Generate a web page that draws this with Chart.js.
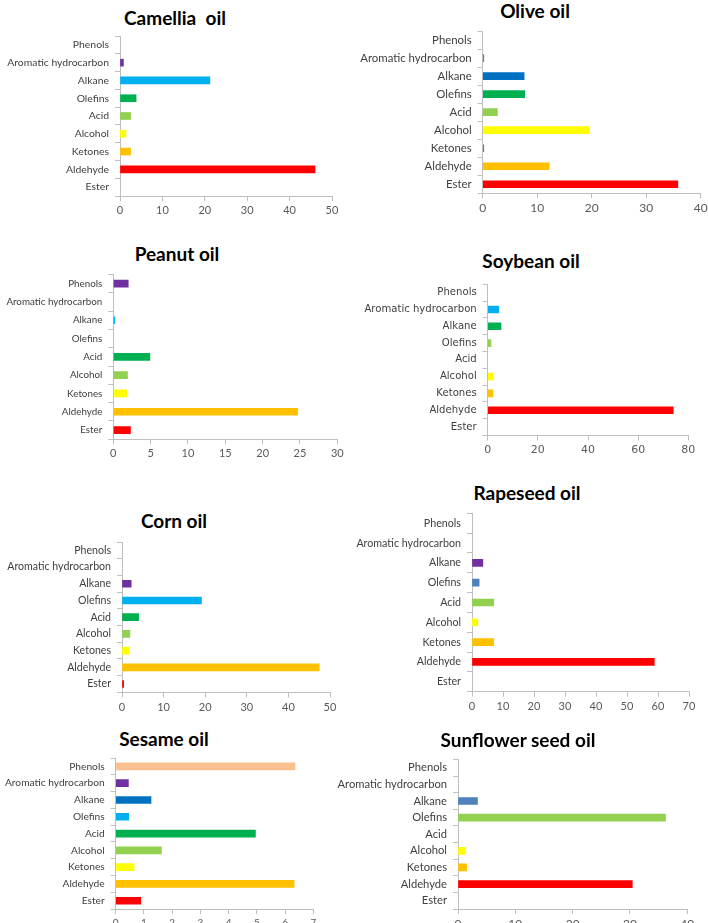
<!DOCTYPE html>
<html>
<head>
<meta charset="utf-8">
<script src="https://cdn.jsdelivr.net/npm/chart.js@4"></script>
<style>
  html, body { margin: 0; padding: 0; background: #fff; overflow: hidden; }
  body { position: relative; width: 708px; height: 923px; }
  canvas { position: absolute; }
  .ttl { position: absolute; transform: translate(-50%, -50%); white-space: pre;
         font-family: Lato, sans-serif; font-weight: bold; font-size: 19px; color: #000; }
</style>
</head>
<body>
<script>
// DATA
const categories = ['Phenols', 'Aromatic hydrocarbon', 'Alkane', 'Olefins', 'Acid', 'Alcohol', 'Ketones', 'Aldehyde', 'Ester'];

const camelliaValues  = [0, 0.8, 21.2, 3.8, 2.5, 1.4, 2.5, 46.0, 0];
const oliveValues     = [0, 0.2, 7.6, 7.7, 2.7, 19.5, 0.2, 12.2, 35.8];
const peanutValues    = [2.0, 0, 0.2, 0, 4.9, 1.9, 1.8, 24.7, 2.3];
const soybeanValues   = [0, 4.4, 5.3, 1.3, 0, 2.1, 2.1, 74.0, 0];
const cornValues      = [0, 0, 2.2, 19.1, 4.0, 1.9, 1.7, 47.4, 0.4];
const rapeseedValues  = [0, 0, 3.5, 2.3, 7.0, 1.9, 7.0, 58.8, 0];
const sesameValues    = [6.35, 0.45, 1.25, 0.46, 4.95, 1.62, 0.65, 6.32, 0.89];
const sunflowerValues = [0, 0, 3.4, 36.2, 0, 1.3, 1.5, 30.4, 0];

const camelliaTicks  = [0, 10, 20, 30, 40, 50];
const oliveTicks     = [0, 10, 20, 30, 40];
const peanutTicks    = [0, 5, 10, 15, 20, 25, 30];
const soybeanTicks   = [0, 20, 40, 60, 80];
const cornTicks      = [0, 10, 20, 30, 40, 50];
const rapeseedTicks  = [0, 10, 20, 30, 40, 50, 60, 70];
const sesameTicks    = [0, 1, 2, 3, 4, 5, 6, 7];
const sunflowerTicks = [0, 10, 20, 30, 40];

// colours (excel palette)
const RED = '#FF0000', ORANGE = '#FFC000', YELLOW = '#FFFF00', LGREEN = '#92D050',
      GREEN = '#00B050', CYAN = '#00B0F0', BLUE = '#0070C0', PURPLE = '#7030A0',
      STEEL = '#4F81BD', PEACH = '#FAC090';

const axisColor = '#BFBFBF';
const labelColor = '#404040';

// panels: title, data, colours, placement
const panels = [
  { title: 'Camellia  oil', tx: 175, ty: 17, values: camelliaValues, ticks: camelliaTicks,
    colors: [PURPLE, PURPLE, CYAN, GREEN, LGREEN, YELLOW, ORANGE, RED, RED],
    left: 0, axisX: 120, axisEnd: 332, top: 36, bottom: 196, fs: 10.4 },
  { title: 'Olive oil', tx: 535, ty: 10, values: oliveValues, ticks: oliveTicks,
    colors: [STEEL, STEEL, BLUE, GREEN, LGREEN, YELLOW, STEEL, ORANGE, RED],
    left: 330, axisX: 482.7, axisEnd: 700.7, top: 31, bottom: 193.3, fs: 11.4, xfs: 12 },
  { title: 'Peanut oil', tx: 177, ty: 253, values: peanutValues, ticks: peanutTicks,
    colors: [PURPLE, PURPLE, CYAN, GREEN, GREEN, LGREEN, YELLOW, ORANGE, RED],
    left: 0, axisX: 113.3, axisEnd: 337.3, top: 274.5, bottom: 439.2, fs: 9.8 },
  { title: 'Soybean oil', tx: 531, ty: 260, values: soybeanValues, ticks: soybeanTicks,
    colors: [CYAN, CYAN, GREEN, LGREEN, LGREEN, YELLOW, ORANGE, RED, RED],
    left: 330, axisX: 487.7, axisEnd: 688.3, top: 284.3, bottom: 435.4, fs: 10.1, family: 'DejaVu Sans' },
  { title: 'Corn oil', tx: 174, ty: 520, values: cornValues, ticks: cornTicks,
    colors: [PURPLE, PURPLE, PURPLE, CYAN, GREEN, LGREEN, YELLOW, ORANGE, RED],
    left: 0, axisX: 122, axisEnd: 330, top: 542, bottom: 692.4, fs: 10.6 },
  { title: 'Rapeseed oil', tx: 527, ty: 492, values: rapeseedValues, ticks: rapeseedTicks,
    colors: [PURPLE, PURPLE, PURPLE, STEEL, LGREEN, YELLOW, ORANGE, RED, RED],
    left: 330, axisX: 472, axisEnd: 689, top: 513.4, bottom: 691.6, fs: 10.7 },
  { title: 'Sesame oil', tx: 164, ty: 738, values: sesameValues, ticks: sesameTicks,
    colors: [PEACH, PURPLE, BLUE, CYAN, GREEN, LGREEN, YELLOW, ORANGE, RED],
    left: 0, axisX: 115.7, axisEnd: 313.3, top: 758, bottom: 909.1, fs: 10.2, xfs: 10 },
  { title: 'Sunflower seed oil', tx: 518, ty: 739, values: sunflowerValues, ticks: sunflowerTicks,
    colors: [STEEL, STEEL, STEEL, LGREEN, LGREEN, YELLOW, ORANGE, RED, RED],
    left: 330, axisX: 458, axisEnd: 687.3, top: 759.4, bottom: 909, fs: 11.2, xfs: 12 }
];

const PAD_TOP = 14, PAD_RIGHT = 20, X_AXIS_H = 22, PAD_BOTTOM = 4;

panels.forEach(p => {
  const t = document.createElement('div');
  t.className = 'ttl';
  t.textContent = p.title;
  t.style.left = p.tx + 'px';
  t.style.top = p.ty + 'px';
  document.body.appendChild(t);

  const cTop = Math.floor(p.top - PAD_TOP);
  const cW = Math.ceil(p.axisEnd - p.left + PAD_RIGHT);
  const cH = Math.ceil(p.bottom + X_AXIS_H + PAD_BOTTOM - cTop);
  const canvas = document.createElement('canvas');
  canvas.width = cW;
  canvas.height = cH;
  canvas.style.left = p.left + 'px';
  canvas.style.top = cTop + 'px';
  document.body.appendChild(canvas);

  const yw = p.axisX - p.left;
  const fam = p.family || 'Lato';
  new Chart(canvas, {
    type: 'bar',
    data: {
      labels: categories,
      datasets: [{
        data: p.values,
        // zero values draw nothing
        backgroundColor: ctx => ctx.raw > 0 ? p.colors[ctx.dataIndex] : 'rgba(0,0,0,0)',
        barThickness: 7
      }]
    },
    options: {
      indexAxis: 'y',
      responsive: false,
      animation: false,
      layout: { padding: { left: 0, top: p.top - cTop, right: cW - (p.axisEnd - p.left), bottom: cTop + cH - p.bottom - X_AXIS_H } },
      plugins: { legend: { display: false }, tooltip: { enabled: false } },
      scales: {
        y: {
          grid: { drawOnChartArea: false, tickLength: 5, color: axisColor },
          border: { color: axisColor, width: 1 },
          ticks: { autoSkip: false, padding: 6, color: labelColor, font: { family: fam, size: p.fs } },
          afterFit: s => { s.width = yw; }
        },
        x: {
          min: 0,
          max: p.ticks[p.ticks.length - 1],
          grid: { drawOnChartArea: false, tickLength: 5, color: axisColor },
          border: { color: axisColor, width: 1 },
          ticks: { stepSize: p.ticks[1] - p.ticks[0], padding: 3, color: '#595959',
                   font: { family: fam, size: p.xfs || 11 } },
          afterFit: s => { s.height = X_AXIS_H; }
        }
      }
    }
  });
});
</script>
</body>
</html>
